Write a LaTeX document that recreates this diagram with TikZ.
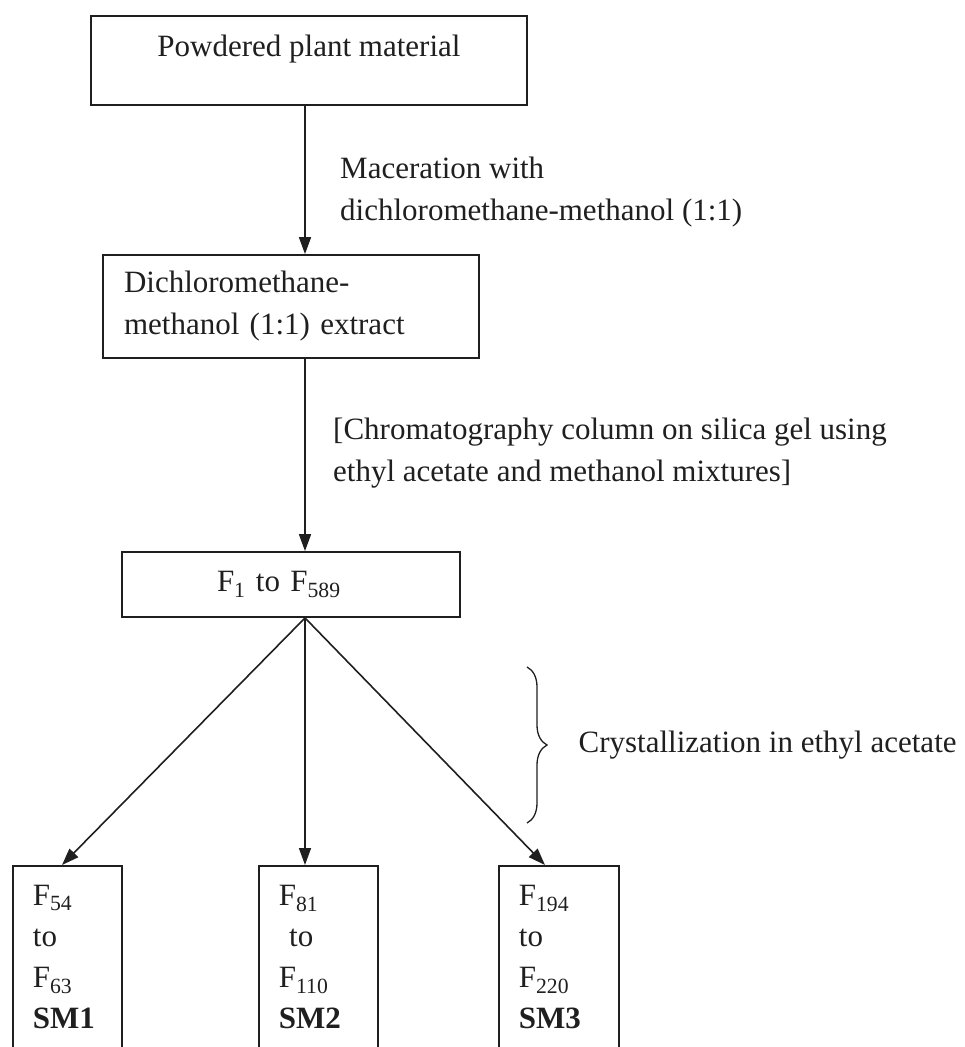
\documentclass[tikz,border=0pt]{standalone}
\usepackage{fontspec}
\setmainfont{Liberation Serif}
\usepackage{tikz}
\usetikzlibrary{arrows.meta,decorations.pathreplacing}

\colorlet{ink}{black!88}

\begin{document}
\begin{tikzpicture}[x=1pt, y=-1pt, > = {Triangle[length=17pt,width=12pt]}, % pixel-like units, y going down
  every node/.style={font=\fontsize{31}{42}\selectfont, text=ink},
  box/.style={draw=ink, line width=1.8pt},
  tallbox/.style={box, anchor=north west, align=left, inner xsep=20pt, inner ysep=19pt, font=\fontsize{31}{41}\selectfont},
  note/.style={align=left, inner sep=0pt},
  arr/.style={->, draw=ink, line width=1.6pt}]
  \clip (0,0) rectangle (964,1047);

  \node[box, minimum width=436pt, minimum height=89pt, text height=22pt, text depth=31pt] (plant) at (309,60.5) {Powdered plant material};
  \node[box, align=left, text width=334pt, inner xsep=21pt, minimum height=103pt] (extract) at (291,306.5) {Dichloromethane-\\methanol (1:1) extract};
  \node[box, align=left, text width=148pt, inner xsep=95pt, minimum height=65pt] (frac) at (291,584.5) {F\textsubscript{1} to F\textsubscript{589}};

  \node[tallbox, text width=69pt] (sm1) at (12,865) {F\textsubscript{54}\\to\\F\textsubscript{63}\\\textbf{SM1}\\[60pt]};
  \node[tallbox, text width=79pt] (sm2) at (258,865) {F\textsubscript{81}\\\ to\\F\textsubscript{110}\\\textbf{SM2}\\[60pt]};
  \node[tallbox, text width=80pt] (sm3) at (498,865) {F\textsubscript{194}\\to\\F\textsubscript{220}\\\textbf{SM3}\\[60pt]};

  \node[note, anchor=west] (macer) at (340,192) {Maceration with\\dichloromethane-methanol (1:1)};
  \node[note, anchor=west] (column) at (333,453) {[Chromatography column on silica gel using\\ethyl acetate and methanol mixtures]};

  \draw[arr] ([xshift=-4pt]plant.south) -- ([xshift=14pt]extract.north);
  \draw[arr] ([xshift=14pt]extract.south) -- ([xshift=14pt]frac.north);
  \draw[arr] ([xshift=14pt]frac.south) -- ([xshift=50pt]sm1.north west);
  \draw[arr] ([xshift=14pt]frac.south) -- ([xshift=47pt]sm2.north west);
  \draw[arr] ([xshift=14pt]frac.south) -- ([xshift=47pt]sm3.north west);

  % brace for the crystallization step
  \coordinate (btop) at (527,667);
  \coordinate (bbot) at (527,823);
  \draw[ink, line width=1.3pt, decorate, decoration={brace, amplitude=20pt}] (btop) -- (bbot)
    node[note, midway, right=51pt] (cryst) {Crystallization in ethyl acetate};
\end{tikzpicture}
\end{document}
